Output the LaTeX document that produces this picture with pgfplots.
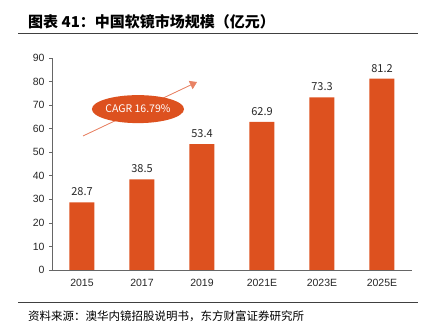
\documentclass[border=0pt]{standalone}
\usepackage{pgfplots}
\pgfplotsset{compat=1.18}
\usepackage{fontspec}
\setmainfont{Liberation Sans}
\newfontfamily\cjk{Noto Sans CJK SC}
\usetikzlibrary{arrows.meta,shapes.geometric}
\definecolor{barc}{RGB}{221,81,31}
\definecolor{arrc}{RGB}{232,130,100}
\begin{document}
\begin{tikzpicture}[x=1pt,y=1pt]
\path[use as bounding box] (0,0) rectangle (424,334);
\node[anchor=west, inner sep=0pt, font=\cjk\bfseries\fontsize{15}{17}\selectfont] at (28,312) {图表 41：中国软镜市场规模（亿元）};
\draw[line width=0.8pt, black!75] (18,301) -- (418,301);
\draw[line width=0.8pt, black!75] (18,32) -- (418,32);
\node[anchor=west, inner sep=0pt, font=\cjk\fontsize{11.5}{13}\selectfont] at (28,18) {资料来源：澳华内镜招股说明书，东方财富证券研究所};
\begin{axis}[
  at={(52pt,64pt)}, anchor=south west,
  scale only axis, width=360pt, height=212pt,
  xmin=-0.5, xmax=5.5, ymin=0, ymax=90,
  ytick={0,10,...,90},
  xtick={0,1,2,3,4,5},
  xticklabels={2015,2017,2019,2021E,2023E,2025E},
  /pgf/number format/assume math mode=true,
  axis x line*=bottom, axis y line*=left,
  axis line style={-, black!60, line width=0.6pt},
  x tick style={draw=none},
  y tick style={black!60, line width=0.6pt},
  tick align=outside, major tick length=3pt,
  tick label style={font=\fontsize{10.5}{12}\selectfont, text=black!85},
  yticklabel style={xshift=-1pt},
  xticklabel style={yshift=-3pt},
  ybar, bar width=25pt,
  nodes near coords={\pgfmathprintnumber[fixed,fixed zerofill,precision=1,assume math mode=true]{\pgfplotspointmeta}},
  every node near coord/.append style={font=\cjk\fontsize{11}{13}\selectfont, text=black!85, yshift=3pt},
  clip=false,
]
\addplot[fill=barc, draw=none] coordinates {(0,28.7) (1,38.5) (2,53.4) (3,62.9) (4,73.3) (5,81.2)};
\draw[-{Triangle[length=7pt,width=9pt]}, draw=arrc, fill=barc, line width=0.8pt] (axis cs:0.017,56.9) -- (axis cs:1.917,79.8);
\node[ellipse, fill=barc, text=white, minimum width=81pt, minimum height=28pt, inner sep=0pt, font=\cjk\fontsize{10.5}{12}\selectfont] at (axis cs:0.933,68.3) {CAGR 16.79\%};
\end{axis}
\end{tikzpicture}
\end{document}
